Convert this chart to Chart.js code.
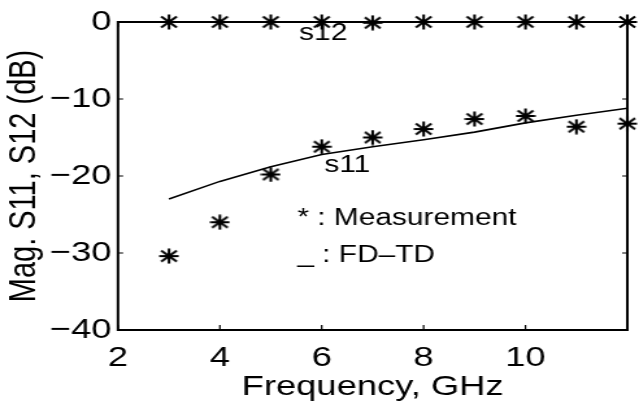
<!DOCTYPE html>
<html>
<head>
<meta charset="utf-8">
<script src="https://cdn.jsdelivr.net/npm/chart.js@4"></script>
<style>
  html, body { margin: 0; padding: 0; background: #fff; overflow: hidden; }
  #wrap { width: 639px; height: 408px; overflow: hidden; }
  /* the original scan is stretched sideways, so the whole chart is too */
  #myChart { transform: scaleX(1.2988); transform-origin: 0 0; }
</style>
</head>
<body>
<div id="wrap"><canvas id="myChart" width="492" height="408"></canvas></div>
<script>
// values
var freq = [3, 4, 5, 6, 7, 8, 9, 10, 11, 12];
var s11Meas = [-30.4, -26, -19.8, -16.2, -15, -13.9, -12.6, -12.2, -13.6, -13.2];
var s12Meas = [0, 0, 0, 0, -0.1, 0, 0, 0, 0, 0];
var s11Fdtd = [-23, -20.7, -18.8, -17.2, -16.2, -15.3, -14.3, -13.1, -12.1, -11.2];
var s12Fdtd = [0, 0, 0, 0, 0, 0, 0, 0, 0, 0];
var xTicks = [2, 4, 6, 8, 10];
var yTicks = [0, -10, -20, -30, -40];

var FONT = 'Liberation Sans, Arial, sans-serif';

function pts(ys) {
    return freq.map(function (f, i) { return { x: f, y: ys[i] }; });
}

// text notes placed in data coordinates
var notes = [
    { text: 's12', x: 6.03, y: -1.5, align: 'center' },
    { text: 's11', x: 6.5, y: -18.6, align: 'center' },
    { text: '* : Measurement', x: 5.52, y: -25.6, align: 'left' },
    { text: '_ : FD\u2013TD', x: 5.52, y: -30.3, align: 'left' }
];

// asterisk marker
var star = document.createElement('canvas');
star.width = 16; star.height = 16;
(function () {
    var c = star.getContext('2d');
    c.strokeStyle = '#000';
    c.lineWidth = 2.1;
    c.beginPath();
    c.moveTo(8, 0.5); c.lineTo(8, 15.5);
    c.moveTo(2, 2.5); c.lineTo(14, 13.5);
    c.moveTo(2, 13.5); c.lineTo(14, 2.5);
    c.moveTo(0.5, 8); c.lineTo(15.5, 8);
    c.stroke();
})();

var frame = {
    id: 'frame',
    afterDatasetsDraw: function (chart) {
        var c = chart.ctx, a = chart.chartArea;
        var xs = chart.scales.x, ys = chart.scales.y;
        c.save();
        c.strokeStyle = '#000';
        c.lineWidth = 2;
        c.strokeRect(a.left, a.top, a.right - a.left, a.bottom - a.top);
        c.lineWidth = 1.2;
        c.beginPath();
        xTicks.forEach(function (v) {
            var px = xs.getPixelForValue(v);
            c.moveTo(px, a.bottom); c.lineTo(px, a.bottom - 5);
            c.moveTo(px, a.top); c.lineTo(px, a.top + 5);
        });
        yTicks.forEach(function (v) {
            var py = ys.getPixelForValue(v);
            c.moveTo(a.left, py); c.lineTo(a.left + 4, py);
            c.moveTo(a.right, py); c.lineTo(a.right - 4, py);
        });
        c.stroke();
        c.fillStyle = '#000';
        c.font = '23px ' + FONT;
        c.textBaseline = 'middle';
        notes.forEach(function (n) {
            c.textAlign = n.align;
            c.fillText(n.text, xs.getPixelForValue(n.x), ys.getPixelForValue(n.y));
        });
        c.restore();
    }
};

var ctx = document.getElementById('myChart').getContext('2d');

var graphData = {
    type: 'scatter',
    data: {
        datasets: [
            { label: 's11 FD-TD', data: pts(s11Fdtd), showLine: true, borderColor: '#000', borderWidth: 1.6, pointRadius: 0 },
            { label: 's12 FD-TD', data: pts(s12Fdtd), showLine: true, borderColor: '#000', borderWidth: 1.6, pointRadius: 0 },
            { label: 's11 Measurement', data: pts(s11Meas), showLine: false, pointStyle: star, pointRadius: 8 },
            { label: 's12 Measurement', data: pts(s12Meas), showLine: false, pointStyle: star, pointRadius: 8 }
        ]
    },
    options: {
        responsive: false,
        animation: false,
        clip: false,
        layout: { padding: { top: 22, right: 7.7, left: 0, bottom: 0 } },
        plugins: { legend: { display: false }, tooltip: { enabled: false } },
        scales: {
            x: {
                type: 'linear', min: 2, max: 12,
                afterFit: function (s) { s.height = 78; },
                afterBuildTicks: function (s) { s.ticks = xTicks.map(function (v) { return { value: v }; }); },
                grid: { display: false, drawTicks: false },
                border: { display: false },
                ticks: { color: '#000', font: { family: FONT, size: 28 }, padding: 11, maxRotation: 0 },
                title: { display: true, text: 'Frequency, GHz', color: '#000', font: { family: FONT, size: 28 }, padding: { top: 0, bottom: 4 } }
            },
            y: {
                type: 'linear', min: -40, max: 0,
                afterFit: function (s) { s.width = 90.85; },
                afterBuildTicks: function (s) { s.ticks = yTicks.map(function (v) { return { value: v }; }); },
                grid: { display: false, drawTicks: false },
                border: { display: false },
                ticks: {
                    color: '#000', font: { family: FONT, size: 28 }, padding: 5,
                    callback: function (v) { return String(v).replace('-', '\u2212'); }
                },
                title: { display: true, text: 'Mag. S11, S12 (dB)', color: '#000', font: { family: FONT, size: 29 }, padding: { top: 2, bottom: 0 } }
            }
        }
    },
    plugins: [frame]
};

var myChart = new Chart(ctx, graphData);
</script>
</body>
</html>
